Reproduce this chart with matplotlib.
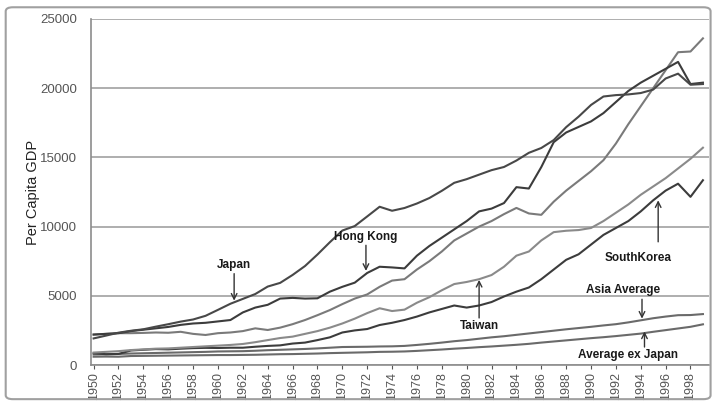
import numpy as np
import matplotlib
matplotlib.use("Agg")
import matplotlib.pyplot as plt
from matplotlib.patches import FancyBboxPatch

plt.rcParams['font.family'] = ['Liberation Sans', 'DejaVu Sans']

years = list(range(1950, 2000))

japan = [1921, 2126, 2336, 2474, 2582, 2771, 2948, 3136, 3289, 3554,
         3986, 4426, 4777, 5129, 5668, 5934, 6506, 7152, 7983, 8874,
         9714, 10040, 10734, 11434, 11145, 11344, 11669, 12064, 12585, 13163,
         13428, 13754, 14078, 14307, 14773, 15331, 15679, 16251, 17185, 17943,
         18789, 19400, 19500, 19550, 19650, 19900, 20700, 21050, 20250, 20300]

hong_kong = [2200, 2250, 2300, 2450, 2550, 2650, 2750, 2900, 3000, 3050,
             3150, 3250, 3800, 4150, 4350, 4800, 4850, 4800, 4820, 5300,
             5650, 5950, 6650, 7100, 7050, 6980, 7900, 8600, 9200, 9800,
             10400, 11100, 11300, 11700, 12850, 12750, 14300, 16100, 16800, 17200,
             17600, 18200, 19000, 19800, 20400, 20900, 21400, 21900, 20300, 20400]

singapore = [2200, 2250, 2300, 2300, 2320, 2350, 2330, 2400, 2250, 2170,
             2300, 2350, 2450, 2650, 2530, 2700, 2950, 3250, 3600, 3970,
             4400, 4800, 5100, 5650, 6100, 6200, 6900, 7500, 8200, 9000,
             9500, 10000, 10400, 10900, 11350, 10950, 10850, 11800, 12600, 13300,
             14000, 14800, 16000, 17400, 18700, 20000, 21300, 22600, 22650, 23600]

taiwan = [900, 950, 1000, 1080, 1130, 1180, 1200, 1250, 1300, 1350,
          1400, 1450, 1520, 1650, 1800, 1950, 2050, 2250, 2450, 2700,
          3000, 3350, 3750, 4100, 3900, 4000, 4500, 4900, 5400, 5850,
          6000, 6200, 6500, 7100, 7900, 8200, 9000, 9600, 9700, 9750,
          9900, 10400, 11000, 11600, 12300, 12900, 13500, 14200, 14900, 15700]

south_korea = [850, 780, 800, 1050, 1100, 1150, 1130, 1180, 1220, 1240,
               1230, 1250, 1250, 1320, 1380, 1420, 1550, 1620, 1800, 2000,
               2350, 2500, 2600, 2890, 3050, 3250, 3500, 3800, 4050, 4300,
               4150, 4300, 4550, 4950, 5300, 5600, 6200, 6900, 7600, 8000,
               8700, 9400, 9900, 10400, 11100, 11900, 12600, 13100, 12150, 13350]

asia_avg = [760, 780, 800, 830, 850, 870, 890, 910, 930, 950,
            980, 990, 1000, 1030, 1070, 1100, 1130, 1160, 1200, 1250,
            1300, 1310, 1320, 1340, 1350, 1380, 1450, 1530, 1620, 1720,
            1800, 1900, 2000, 2080, 2180, 2280, 2380, 2480, 2580, 2670,
            2760, 2860, 2950, 3080, 3230, 3380, 3500, 3600, 3610, 3680]

avg_ex_japan = [600, 610, 600, 650, 660, 670, 680, 690, 700, 710,
                720, 720, 730, 740, 760, 780, 790, 810, 830, 860,
                880, 900, 920, 950, 960, 980, 1020, 1070, 1120, 1180,
                1230, 1290, 1340, 1400, 1460, 1530, 1620, 1700, 1780, 1860,
                1940, 2010, 2090, 2180, 2270, 2400, 2520, 2640, 2760, 2940]

series = [
    (asia_avg, '#6a6a6a'),
    (avg_ex_japan, '#6a6a6a'),
    (south_korea, '#3c3c3c'),
    (taiwan, '#8a8a8a'),
    (singapore, '#7a7a7a'),
    (hong_kong, '#3c3c3c'),
    (japan, '#484848'),
]

# label text, text position (year, value), arrow tail, arrow tip
notes = [
    ('Japan', (1961.3, 7200), (1961.3, 6600), (1961.3, 4650)),
    ('Hong Kong', (1971.9, 9250), (1971.9, 8650), (1971.9, 6800)),
    ('Taiwan', (1981.0, 2850), (1981.0, 3400), (1981.0, 6150)),
    ('SouthKorea', (1993.8, 7700), (1995.4, 8900), (1995.4, 11900)),
    ('Asia Average', (1992.6, 5400), (1994.1, 4750), (1994.1, 3350)),
    ('Average ex Japan', (1993.0, 700), (1994.3, 1300), (1994.3, 2420)),
]

fig = plt.figure(figsize=(7.12, 4.04), dpi=100)
ax = fig.add_axes([0.128, 0.0965, 0.868, 0.8565])

for vals, col in series:
    ax.plot(years, vals, color=col, lw=1.5, solid_joinstyle='round')

ax.set_xlim(1949.8, 1999.5)
ax.set_ylim(0, 25000)
ax.set_yticks(range(0, 25001, 5000))
ax.set_xticks(years[::2])
ax.set_xticklabels([str(y) for y in years[::2]], rotation=90)
ax.tick_params(axis='x', colors='#555555', labelsize=9, length=3, pad=2)
ax.tick_params(axis='y', colors='#555555', labelsize=9.5, length=0, pad=10)
ax.grid(axis='y', color='#a8a8a8', lw=1.3)
ax.set_axisbelow(True)
for s in ['top', 'right']:
    ax.spines[s].set_visible(False)
for s in ['left', 'bottom']:
    ax.spines[s].set_color('#8c8c8c')
    ax.spines[s].set_linewidth(1.2)
ax.set_ylabel('Per Capita GDP', fontsize=10.5, color='#222222', labelpad=0)

for text, xy_text, tail, tip in notes:
    ax.text(xy_text[0], xy_text[1], text, ha='center', va='center',
            fontsize=8.5, fontweight='bold', color='#1a1a1a')
    ax.annotate('', xy=tip, xytext=tail,
                arrowprops=dict(arrowstyle='->', color='#333333', lw=1.0,
                                shrinkA=0, shrinkB=0))

frame = FancyBboxPatch((0.008, 0.012), 0.99, 0.97, boxstyle='round,pad=0,rounding_size=0.01',
                       transform=fig.transFigure, fill=False, edgecolor='#a0a0a0', lw=1.5)
fig.patches.append(frame)

fig.savefig('out.png', dpi=100)
